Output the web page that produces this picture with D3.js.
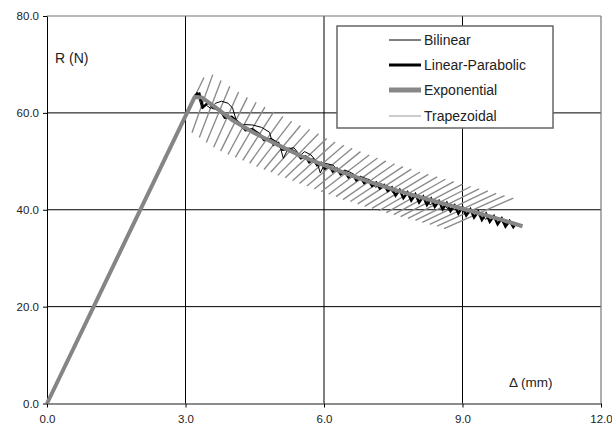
<!DOCTYPE html>
<html>
<head>
<meta charset="utf-8">
<script src="https://cdn.jsdelivr.net/npm/d3@7"></script>
<style>
  html, body { margin: 0; padding: 0; background: #fff; }
  svg { display: block; font-family: "Liberation Sans", Arial, sans-serif; }
</style>
</head>
<body>
<svg id="chart" width="612" height="428"></svg>
<script>
// ---- data ----
const xTicks = [0, 3, 6, 9, 12];
const yTicks = [0, 20, 40, 60, 80];
const seriesNames = ["Bilinear", "Linear-Parabolic", "Exponential", "Trapezoidal"];

const bilinearX = [0, 3.25, 3.36, 3.45, 3.55, 3.65, 3.78, 3.92, 4.02, 4.12, 4.25, 4.45, 4.65, 4.82, 4.90, 5.02, 5.12, 5.22, 5.35, 5.48, 5.58, 5.72, 5.85, 5.92, 6.02, 6.2, 6.35, 6.45, 6.6, 6.72, 6.82, 7.0, 7.12, 7.22, 7.4, 7.5, 7.6, 7.8, 7.9, 8.0, 8.2, 8.3, 8.4, 8.6, 8.7, 8.8, 9.0, 9.1, 9.2, 9.4, 9.5, 9.6, 9.8, 9.9, 10.0, 10.15];
const bilinearY = [0, 64.3, 60.8, 61.6, 60.9, 62.0, 62.4, 62.0, 61.0, 57.8, 57.6, 57.5, 57.0, 56.0, 53.2, 54.0, 50.6, 52.6, 52.8, 51.2, 52.0, 51.3, 49.8, 47.6, 49.6, 49.2, 47.5, 48.2, 47.6, 46.2, 46.8, 46.1, 44.6, 45.4, 44.8, 43.4, 44.2, 43.6, 42.2, 42.9, 42.3, 41.0, 41.7, 41.2, 39.9, 40.7, 40.3, 38.9, 39.8, 39.2, 38.0, 38.8, 38.1, 37.0, 37.6, 37.3];

const linParX = [0, 3.22, 3.30, 3.38, 3.5, 3.6, 3.75, 3.85, 4.0, 4.2, 4.3, 4.45, 4.6, 4.7, 4.85, 5.0, 5.1, 5.25, 5.4, 5.5,
  5.60, 5.68, 5.77, 5.85, 5.94, 6.02, 6.11, 6.19, 6.28, 6.36, 6.45, 6.53, 6.62, 6.70, 6.79, 6.87, 6.96, 7.04, 7.13, 7.21, 7.30, 7.38,
  7.47, 7.55, 7.64, 7.72, 7.81, 7.89, 7.98, 8.06, 8.15, 8.23, 8.32, 8.40, 8.49, 8.57, 8.66, 8.74, 8.83, 8.91, 9.00, 9.08, 9.17, 9.25,
  9.34, 9.42, 9.51, 9.59, 9.68, 9.76, 9.85, 9.93, 10.02, 10.10, 10.17];
const linParY = [0, 63.7, 64.0, 61.2, 62.2, 61.0, 60.6, 59.0, 59.2, 57.6, 56.4, 56.6, 55.6, 54.4, 54.6, 53.7, 52.4, 52.6, 51.8, 50.6,
  51.0, 49.8, 50.4, 49.2, 49.7, 48.5, 49.1, 47.9, 48.5, 47.3, 47.9, 46.7, 47.3, 46.1, 46.7, 45.5, 46.1, 44.9, 45.6, 44.4, 45.1, 43.9,
  44.6, 42.9, 44.1, 42.4, 43.6, 41.9, 43.2, 41.5, 42.7, 41.0, 42.3, 40.6, 41.8, 40.1, 41.4, 39.7, 40.9, 39.2, 40.5, 38.8, 40.1, 38.4,
  39.6, 37.9, 39.2, 37.5, 38.7, 37.0, 38.2, 36.5, 37.7, 36.4, 37.3];

const expX = [0, 3.2, 3.35, 3.6, 4.0, 4.5, 5.0, 5.5, 6.0, 6.5, 7.0, 7.5, 8.0, 8.5, 9.0, 9.5, 10.0, 10.3];
const expY = [0, 63.3, 63.2, 61.5, 58.6, 55.8, 53.4, 51.1, 49.2, 47.4, 45.7, 44.2, 42.8, 41.5, 40.2, 38.9, 37.5, 36.6];

// Trapezoidal: elastic loading branch, then the saw-tooth strokes (low end -> high end)
const trapLoadX = [0, 3.40];
const trapLoadY = [0, 67.3];
const trapLoX = [3.14, 3.30, 3.45, 3.61, 3.76, 3.92, 4.08, 4.24, 4.39, 4.54, 4.70, 4.85, 5.00, 5.16, 5.32, 5.47, 5.63, 5.79, 5.94, 6.10, 6.26, 6.41, 6.57, 6.73, 6.88, 7.04, 7.19, 7.35, 7.51, 7.66, 7.82, 7.98, 8.13, 8.29, 8.45, 8.60];
const trapLoY = [55.9, 54.9, 53.9, 52.9, 52.1, 51.4, 50.8, 50.2, 49.6, 48.9, 48.3, 47.8, 47.1, 46.6, 46.0, 45.4, 44.9, 44.3, 43.7, 43.2, 42.7, 42.1, 41.7, 41.2, 40.7, 40.3, 39.8, 39.4, 39.0, 38.6, 38.2, 37.8, 37.4, 37.0, 36.6, 36.1];
const trapHiX = [3.59, 3.77, 3.96, 4.15, 4.34, 4.53, 4.72, 4.91, 5.11, 5.30, 5.49, 5.69, 5.88, 6.06, 6.24, 6.43, 6.61, 6.79, 6.98, 7.16, 7.34, 7.53, 7.71, 7.89, 8.08, 8.26, 8.45, 8.63, 8.81, 9.00, 9.18, 9.36, 9.55, 9.73, 9.91, 10.10];
const trapHiY = [67.9, 66.7, 65.5, 64.3, 63.2, 62.2, 61.2, 60.2, 59.3, 58.3, 57.4, 56.6, 55.7, 54.7, 54.0, 53.3, 52.7, 52.0, 51.3, 50.7, 50.1, 49.5, 48.9, 48.4, 47.8, 47.3, 46.8, 46.3, 45.8, 45.3, 44.8, 44.3, 43.9, 43.4, 42.9, 42.4];

// ---- layout ----
const svg = d3.select("#chart");
const x = d3.scaleLinear().domain([0, 12]).range([47, 601]);
const y = d3.scaleLinear().domain([0, 80]).range([403.5, 16]);
const zip = (xs, ys) => xs.map((v, i) => [v, ys[i]]);

// gridlines
svg.append("g").selectAll("line").data([3, 6, 9]).join("line")
  .attr("x1", d => x(d)).attr("x2", d => x(d))
  .attr("y1", y(80)).attr("y2", y(0))
  .attr("stroke", "#000").attr("stroke-width", 1);
svg.append("g").selectAll("line").data([20, 40, 60]).join("line")
  .attr("x1", x(0)).attr("x2", x(12))
  .attr("y1", d => y(d)).attr("y2", d => y(d))
  .attr("stroke", "#000").attr("stroke-width", 1);

// plot border (top/right)
svg.append("line").attr("x1", x(0)).attr("x2", x(12)).attr("y1", y(80)).attr("y2", y(80))
  .attr("stroke", "#777").attr("stroke-width", 1.2);
svg.append("line").attr("x1", x(12)).attr("x2", x(12)).attr("y1", y(80)).attr("y2", y(0))
  .attr("stroke", "#777").attr("stroke-width", 1.2);

// axes
const fmt = d3.format(".1f");
const yAxis = svg.append("g").attr("transform", `translate(${x(0)},0)`)
  .call(d3.axisLeft(y).tickValues(yTicks).tickFormat(fmt).tickSize(4).tickSizeOuter(0).tickPadding(4));
yAxis.select(".domain").attr("stroke", "#000");
const xAxis = svg.append("g").attr("transform", `translate(0,${y(0)})`)
  .call(d3.axisBottom(x).tickValues(xTicks).tickFormat(fmt).tickSize(4).tickSizeOuter(0).tickPadding(7));
xAxis.select(".domain").attr("stroke", "#666").attr("stroke-width", 1.5);
svg.selectAll(".tick text").attr("font-size", "11.5px").attr("fill", "#222")
  .attr("font-family", "'Liberation Sans', Arial, sans-serif");

// series
const line = d3.line().x(d => x(d[0])).y(d => y(d[1]));
const plot = svg.append("g");
const trapStyle = sel => sel.attr("fill", "none").attr("stroke", "#8a8a8a").attr("stroke-width", 1.35);
plot.append("path").attr("d", line(zip(trapLoadX, trapLoadY))).call(trapStyle);
const strokes = trapLoX.map((v, i) => [[v, trapLoY[i]], [trapHiX[i], trapHiY[i]]]);
plot.append("g").selectAll("path").data(strokes).join("path")
  .attr("d", d => line(d)).call(trapStyle);
plot.append("path").attr("d", line(zip(bilinearX, bilinearY)))
  .attr("fill", "none").attr("stroke", "#000").attr("stroke-width", 1);
plot.append("path").attr("d", line(zip(linParX, linParY)))
  .attr("fill", "none").attr("stroke", "#000").attr("stroke-width", 2.4);
plot.append("path").attr("d", line(zip(expX, expY)))
  .attr("fill", "none").attr("stroke", "#858585").attr("stroke-width", 4).attr("stroke-linejoin", "round");

// axis titles
svg.append("text").attr("x", 55).attr("y", 63).attr("font-size", "14px").attr("fill", "#222").text("R (N)");
svg.append("text").attr("x", 509).attr("y", 387).attr("font-size", "13.5px").attr("fill", "#222").text("Δ (mm)");

// legend
const lg = svg.append("g");
lg.append("rect").attr("x", 337).attr("y", 26).attr("width", 216).attr("height", 102)
  .attr("fill", "#fff").attr("stroke", "#666").attr("stroke-width", 1.5);
const legStyles = [
  { c: "#000", w: 1 },
  { c: "#000", w: 3 },
  { c: "#888", w: 5 },
  { c: "#999", w: 1 }
];
const legY = [40, 65, 90, 116];
seriesNames.forEach((name, i) => {
  lg.append("line").attr("x1", 389).attr("x2", 421).attr("y1", legY[i]).attr("y2", legY[i])
    .attr("stroke", legStyles[i].c).attr("stroke-width", legStyles[i].w);
  lg.append("text").attr("x", 424).attr("y", legY[i] + 5).attr("font-size", "14px").attr("fill", "#222").text(name);
});
</script>
</body>
</html>
